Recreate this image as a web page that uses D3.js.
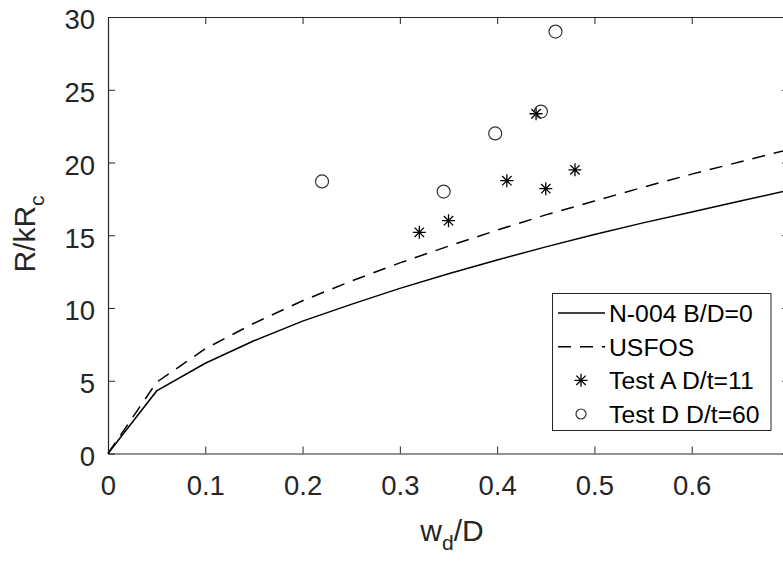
<!DOCTYPE html>
<html>
<head>
<meta charset="utf-8">
<script src="https://cdn.jsdelivr.net/npm/d3@7"></script>
<style>
  body { margin: 0; background: #fff; }
  svg { display: block; font-family: "Liberation Sans", Arial, sans-serif; }
</style>
</head>
<body>
<div class="chart"></div>
<script>
// Curve data (w_d/D vs R/kR_c)
const curveX = [0, 0.05, 0.1, 0.15, 0.2, 0.25, 0.3, 0.35, 0.4, 0.45, 0.5, 0.55, 0.6, 0.65, 0.7];
const n004 = [0, 4.3, 6.2, 7.75, 9.1, 10.25, 11.35, 12.35, 13.3, 14.2, 15.05, 15.85, 16.6, 17.35, 18.1];
const usfos = [0, 4.9, 7.2, 8.95, 10.5, 11.85, 13.1, 14.25, 15.35, 16.4, 17.35, 18.3, 19.2, 20.05, 20.9];

// Test points
const testAX = [0.32, 0.35, 0.41, 0.44, 0.45, 0.48];
const testAY = [15.2, 16.0, 18.75, 23.35, 18.2, 19.5];
const testDX = [0.22, 0.345, 0.398, 0.445, 0.46];
const testDY = [18.7, 18.0, 22.0, 23.5, 29.0];

const legendLabels = ["N-004 B/D=0", "USFOS", "Test A D/t=11", "Test D D/t=60"];
const xTicks = [0, 0.1, 0.2, 0.3, 0.4, 0.5, 0.6];
const yTicks = [0, 5, 10, 15, 20, 25, 30];

const W = 783, H = 561;
const axisColor = "#262626";

const svg = d3.select(".chart")
  .append("svg")
  .attr("width", W)
  .attr("height", H);

const x = d3.scaleLinear().domain([0, 0.7]).range([108, 789]);
const y = d3.scaleLinear().domain([0, 30]).range([453.5, 17]);

// axes (MATLAB style box, ticks inside)
function styleAxis(g) {
  g.select(".domain").attr("stroke", axisColor).attr("stroke-width", 1.2);
  g.selectAll(".tick line").attr("stroke", axisColor).attr("stroke-width", 1);
  g.selectAll("text").attr("fill", axisColor).style("font-size", "27.5px");
}

svg.append("g")
  .attr("transform", `translate(0,${y(0)})`)
  .call(d3.axisBottom(x).tickValues(xTicks).tickFormat(d3.format("")).tickSizeInner(-7).tickSizeOuter(0).tickPadding(22))
  .call(styleAxis);

svg.append("g")
  .attr("transform", `translate(0,${y(30)})`)
  .call(d3.axisTop(x).tickValues(xTicks).tickFormat("").tickSizeInner(-7).tickSizeOuter(0))
  .call(styleAxis);

svg.append("g")
  .attr("transform", `translate(${x(0)},0)`)
  .call(d3.axisLeft(y).tickValues(yTicks).tickSizeInner(-7).tickSizeOuter(0).tickPadding(13))
  .call(styleAxis)
  .selectAll("text").attr("dy", "0.43em");

svg.append("g")
  .attr("transform", `translate(${x(0.7)},0)`)
  .call(d3.axisRight(y).tickValues(yTicks).tickFormat("").tickSizeInner(-7).tickSizeOuter(0))
  .call(styleAxis);

// axis labels
const xl = svg.append("text")
  .attr("x", 452)
  .attr("y", 541)
  .attr("text-anchor", "middle")
  .attr("fill", axisColor)
  .style("font-size", "30px");
xl.append("tspan").text("w");
xl.append("tspan").attr("dy", 9).style("font-size", "21px").text("d");
xl.append("tspan").attr("dy", -9).text("/D");

const yl = svg.append("text")
  .attr("transform", "translate(35,234) rotate(-90)")
  .attr("text-anchor", "middle")
  .attr("fill", axisColor)
  .style("font-size", "30px");
yl.append("tspan").text("R/kR");
yl.append("tspan").attr("dy", 9).style("font-size", "21px").text("c");

// curves
const line = d3.line().x(d => x(d[0])).y(d => y(d[1]));

svg.append("path")
  .datum(curveX.map((v, i) => [v, n004[i]]))
  .attr("d", line)
  .attr("fill", "none")
  .attr("stroke", "#000")
  .attr("stroke-width", 1.5);

svg.append("path")
  .datum(curveX.map((v, i) => [v, usfos[i]]))
  .attr("d", line)
  .attr("fill", "none")
  .attr("stroke", "#000")
  .attr("stroke-width", 1.5)
  .attr("stroke-dasharray", "13,9");

// MATLAB asterisk marker
function star(r) {
  const p = d3.path();
  const q = r * 0.72;
  p.moveTo(-r, 0); p.lineTo(r, 0);
  p.moveTo(0, -r); p.lineTo(0, r);
  p.moveTo(-q, -q); p.lineTo(q, q);
  p.moveTo(-q, q); p.lineTo(q, -q);
  return p.toString();
}

svg.append("g")
  .selectAll("path")
  .data(testAX.map((v, i) => [v, testAY[i]]))
  .join("path")
  .attr("transform", d => `translate(${x(d[0])},${y(d[1])})`)
  .attr("d", star(6.5))
  .attr("stroke", "#000")
  .attr("stroke-width", 1.3)
  .attr("fill", "none");

svg.append("g")
  .selectAll("circle")
  .data(testDX.map((v, i) => [v, testDY[i]]))
  .join("circle")
  .attr("cx", d => x(d[0]))
  .attr("cy", d => y(d[1]))
  .attr("r", 6.5)
  .attr("stroke", "#333")
  .attr("stroke-width", 1.2)
  .attr("fill", "none");

// legend
const legend = svg.append("g");
legend.append("rect")
  .attr("x", 552.5)
  .attr("y", 293.5)
  .attr("width", 218.5)
  .attr("height", 137)
  .attr("fill", "#fff")
  .attr("stroke", axisColor)
  .attr("stroke-width", 1);

const rowY = [313, 346.7, 380.3, 414];
legendLabels.forEach((label, i) => {
  const ry = rowY[i];
  if (i === 0 || i === 1) {
    legend.append("line")
      .attr("x1", 558).attr("x2", 605)
      .attr("y1", ry).attr("y2", ry)
      .attr("stroke", "#000")
      .attr("stroke-width", 1.5)
      .attr("stroke-dasharray", i === 1 ? "13,9" : null);
  } else if (i === 2) {
    legend.append("path")
      .attr("transform", `translate(581,${ry})`)
      .attr("d", star(6.5))
      .attr("stroke", "#000")
      .attr("stroke-width", 1.3);
  } else {
    legend.append("circle")
      .attr("cx", 581).attr("cy", ry).attr("r", 5)
      .attr("stroke", "#333").attr("stroke-width", 1.2).attr("fill", "none");
  }
  legend.append("text")
    .attr("x", 609)
    .attr("y", ry)
    .attr("dy", "0.36em")
    .attr("fill", "#000")
    .style("font-size", "24.75px")
    .text(label);
});
</script>
</body>
</html>
